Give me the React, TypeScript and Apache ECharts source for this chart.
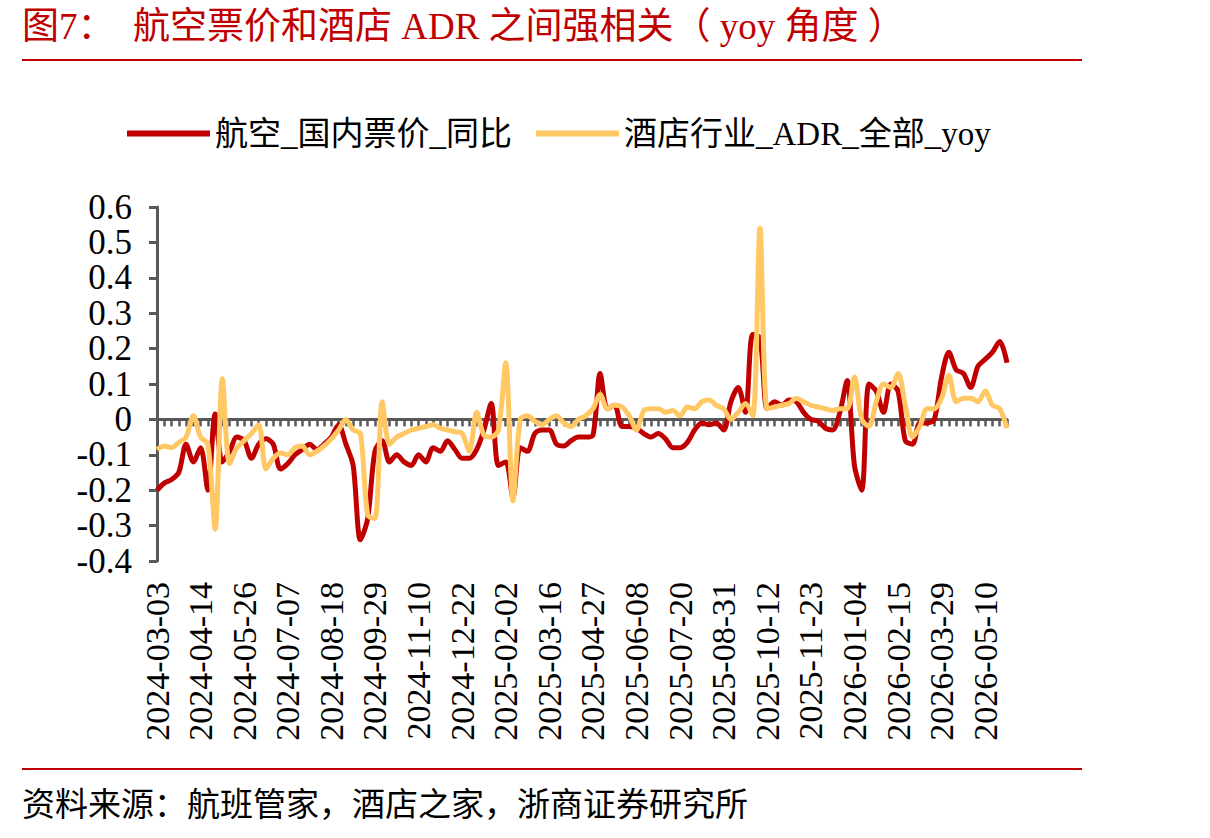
import React, { useEffect, useRef } from "react";
import * as echarts from "echarts";

// Weekly observation dates (every Sunday from 2024-03-03)
const START_DATE = "2024-03-03";
const WEEK_COUNT = 118;

function weeklyDates(start: string, count: number): string[] {
  const out: string[] = [];
  const base = new Date(start + "T00:00:00Z").getTime();
  for (let k = 0; k < count; k++) {
    const d = new Date(base + k * 7 * 86400000);
    out.push(d.toISOString().slice(0, 10));
  }
  return out;
}

const dates = weeklyDates(START_DATE, WEEK_COUNT);

// 航空_国内票价_同比
const airfareYoy = [
  -0.2, -0.18, -0.17, -0.15, -0.07, -0.12, -0.08, -0.2, 0.015, -0.12,
  -0.09, -0.05, -0.06, -0.11, -0.07, -0.055, -0.07, -0.14, -0.125, -0.1,
  -0.085, -0.07, -0.085, -0.07, -0.05, -0.015, -0.07, -0.13, -0.34, -0.28,
  -0.09, -0.06, -0.12, -0.1, -0.12, -0.13, -0.1, -0.12, -0.08, -0.09,
  -0.06, -0.085, -0.11, -0.11, -0.085, -0.03, 0.045, -0.13, -0.12, -0.22,
  -0.08, -0.09, -0.04, -0.03, -0.03, -0.07, -0.075, -0.06, -0.05, -0.05,
  -0.045, 0.13, 0.03, 0.04, -0.02, -0.02, -0.025, -0.04, -0.05, -0.04,
  -0.055, -0.08, -0.08, -0.065, -0.03, -0.01, -0.015, -0.01, -0.03, 0.05,
  0.09, 0.02, 0.24, 0.23, 0.03, 0.05, 0.04, 0.055, 0.05, 0.02,
  0.0, -0.005, -0.025, -0.03, 0.02, 0.11, -0.13, -0.2, 0.1, 0.08,
  0.02, 0.1, 0.08, -0.06, -0.07, -0.01, -0.01, 0.0, 0.12, 0.19,
  0.14, 0.13, 0.09, 0.15, 0.17, 0.19, 0.22, 0.16,
];

// 酒店行业_ADR_全部_yoy
const hotelAdrYoy = [
  -0.085, -0.075, -0.08, -0.065, -0.05, 0.01, -0.05, -0.07, -0.31, 0.115,
  -0.125, -0.08, -0.06, -0.04, -0.015, -0.14, -0.11, -0.095, -0.1, -0.08,
  -0.075, -0.1, -0.09, -0.075, -0.055, -0.03, 0.0, -0.03, -0.04, -0.27,
  -0.28, 0.05, -0.07, -0.05, -0.04, -0.03, -0.025, -0.02, -0.015, -0.025,
  -0.03, -0.035, -0.04, -0.09, 0.02, -0.045, -0.05, -0.03, 0.16, -0.23,
  0.0, 0.01, -0.005, -0.015, 0.0, 0.01, -0.01, -0.02, 0.0, 0.01,
  0.03, 0.07, 0.03, 0.04, 0.035, 0.01, -0.03, 0.025, 0.03, 0.03,
  0.02, 0.025, 0.01, 0.035, 0.03, 0.05, 0.055, 0.04, 0.03, 0.0,
  0.02, 0.045, 0.01, 0.54, 0.03, 0.035, 0.04, 0.045, 0.06, 0.05,
  0.04, 0.035, 0.03, 0.025, 0.03, 0.03, 0.12, 0.0, -0.02, 0.05,
  0.1, 0.09, 0.13, 0.04, -0.05, -0.02, 0.03, 0.03, 0.06, 0.125,
  0.05, 0.06, 0.06, 0.05, 0.08, 0.04, 0.03, -0.025,
];

const seriesNames = ["航空_国内票价_同比", "酒店行业_ADR_全部_yoy"];
const titleText = "图7：  航空票价和酒店 ADR 之间强相关（ yoy 角度 ）";
const sourceText = "资料来源：航班管家，酒店之家，浙商证券研究所";

const RED = "#C00000";
const GOLD = "#FFC864";
const AXIS = "#595959";
const FONT = '"Liberation Serif", "Noto Sans CJK SC", serif';

export default function App() {
  const ref = useRef<HTMLDivElement>(null);

  useEffect(() => {
    if (!ref.current) return;
    const chart = echarts.init(ref.current, null, { renderer: "svg" });
    chart.setOption({
      animation: false,
      backgroundColor: "#ffffff",
      graphic: [
        {
          type: "text",
          x: 22,
          y: 26,
          style: {
            text: titleText,
            font: `37px ${FONT}`,
            fill: RED,
            verticalAlign: "middle",
          },
        },
        {
          type: "line",
          shape: { x1: 22, y1: 60, x2: 1082, y2: 60 },
          style: { stroke: RED, lineWidth: 2 },
        },
        {
          type: "line",
          shape: { x1: 22, y1: 769, x2: 1082, y2: 769 },
          style: { stroke: RED, lineWidth: 2 },
        },
        {
          type: "text",
          x: 22,
          y: 805,
          style: {
            text: sourceText,
            font: `33px ${FONT}`,
            fill: "#000000",
            verticalAlign: "middle",
          },
        },
      ],
      legend: {
        left: 122,
        top: 112,
        icon: "rect",
        itemWidth: 83,
        itemHeight: 6,
        itemGap: 24,
        textStyle: { fontFamily: FONT, fontSize: 33, color: "#000000" },
        data: seriesNames,
      },
      grid: { left: 157, right: 203, top: 207, bottom: 277, containLabel: false },
      xAxis: [
        {
          type: "category",
          data: dates,
          boundaryGap: false,
          position: "bottom",
          axisLine: { show: false, onZero: false },
          axisTick: { show: false },
          axisLabel: {
            interval: 5,
            rotate: 90,
            margin: 21,
            fontFamily: FONT,
            fontSize: 34,
            color: "#000000",
          },
        },
        {
          type: "category",
          data: dates,
          boundaryGap: false,
          position: "bottom",
          axisLine: { show: true, onZero: true, lineStyle: { color: AXIS, width: 3 } },
          axisTick: {
            show: true,
            interval: 0,
            length: 7,
            lineStyle: { color: AXIS, width: 2.5 },
          },
          axisLabel: { show: false },
        },
      ],
      yAxis: {
        type: "value",
        min: -0.4,
        max: 0.6,
        interval: 0.1,
        axisLine: { show: true, lineStyle: { color: AXIS, width: 3 } },
        axisTick: { show: true, length: 8, lineStyle: { color: AXIS, width: 3 } },
        splitLine: { show: false },
        axisLabel: {
          margin: 25,
          fontFamily: FONT,
          fontSize: 35,
          color: "#000000",
        },
      },
      series: [
        {
          name: seriesNames[0],
          type: "line",
          xAxisIndex: 0,
          data: airfareYoy,
          showSymbol: false,
          smooth: 0.3,
          lineStyle: { color: RED, width: 5 },
          itemStyle: { color: RED },
        },
        {
          name: seriesNames[1],
          type: "line",
          xAxisIndex: 0,
          data: hotelAdrYoy,
          showSymbol: false,
          smooth: 0.3,
          lineStyle: { color: GOLD, width: 5 },
          itemStyle: { color: GOLD },
        },
      ],
    });
    return () => chart.dispose();
  }, []);

  return (
    <div
      ref={ref}
      style={{ position: "absolute", left: 0, top: 0, width: 1210, height: 838 }}
    />
  );
}
